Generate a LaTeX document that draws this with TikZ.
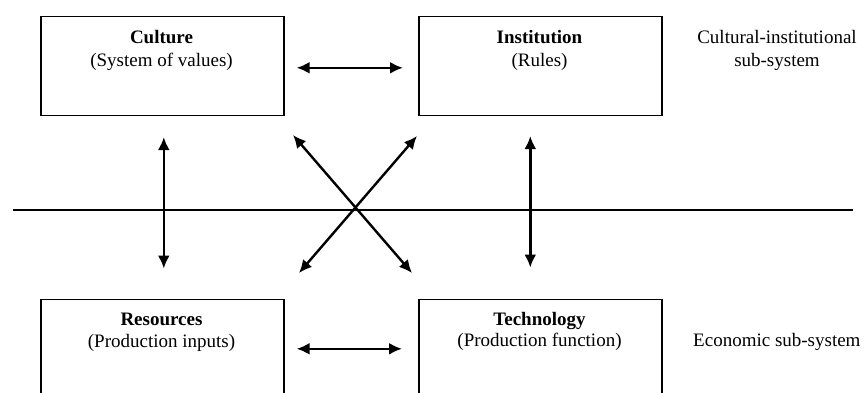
\documentclass[tikz,border=0pt]{standalone}
\usepackage{fontspec}
\setmainfont{Liberation Serif}
\usetikzlibrary{arrows.meta}
\begin{document}
\begin{tikzpicture}[x=1pt,y=-1pt,
  box/.style={draw, line width=1.6pt, minimum width=243pt, minimum height=99pt, inner sep=0pt, anchor=north west},
  txt/.style={anchor=base, inner sep=0pt, font=\fontsize{19}{22}\selectfont},
  ttl/.style={txt, font=\fontsize{19}{22}\selectfont\bfseries},
  arr/.style={line width=2.4pt, {Latex[length=13pt,width=12pt]}-{Latex[length=13pt,width=12pt]}}]
\useasboundingbox (0,0) rectangle (866,392);
\clip (0,0) rectangle (866,392);
% boxes
\node[box] (cul) at (40,15.5) {};
\node[box] (ins) at (418,15.5) {};
\node[box] (res) at (40,298.5) {};
\node[box] (tec) at (418,298.5) {};
% texts
\node[ttl] (culT) at (161.5,43) {Culture};
\node[txt] (culS) at (161.5,66) {(System of values)};
\node[ttl] (insT) at (539.5,43) {Institution};
\node[txt] (insS) at (539.5,66) {(Rules)};
\node[ttl] (resT) at (161.5,325) {Resources};
\node[txt] (resS) at (161.5,347) {(Production inputs)};
\node[ttl] (tecT) at (539.5,325) {Technology};
\node[txt] (tecS) at (539.5,346) {(Production function)};
\node[txt] (cl1) at (777,43) {Cultural-institutional};
\node[txt] (cl2) at (777,66) {sub-system};
\node[txt, anchor=base west] (ec) at (693,346) {Economic sub-system};
% divider
\coordinate (hl) at (13,210);
\coordinate (hr) at (853,210);
\draw[line width=1.6pt] (hl) -- (hr);
% arrows
\draw[arr, shorten <=12pt, shorten >=15pt] ([yshift=-2pt]cul.east) -- ([yshift=-2pt]ins.west);
\draw[arr, shorten <=12pt, shorten >=16pt] (res.east) -- (tec.west);
\draw[arr, shorten <=21pt, shorten >=30pt] ([xshift=1.5pt]cul.south) -- ([xshift=1.5pt]res.north);
\draw[arr, shorten <=20pt, shorten >=31pt] ([xshift=-10pt]ins.south) -- ([xshift=-10pt]tec.north);
\coordinate (a1) at (293,135);
\coordinate (a2) at (412,273);
\coordinate (b1) at (417,136);
\coordinate (b2) at (299,273);
\draw[arr] (a1) -- (a2);
\draw[arr] (b1) -- (b2);
\end{tikzpicture}
\end{document}
